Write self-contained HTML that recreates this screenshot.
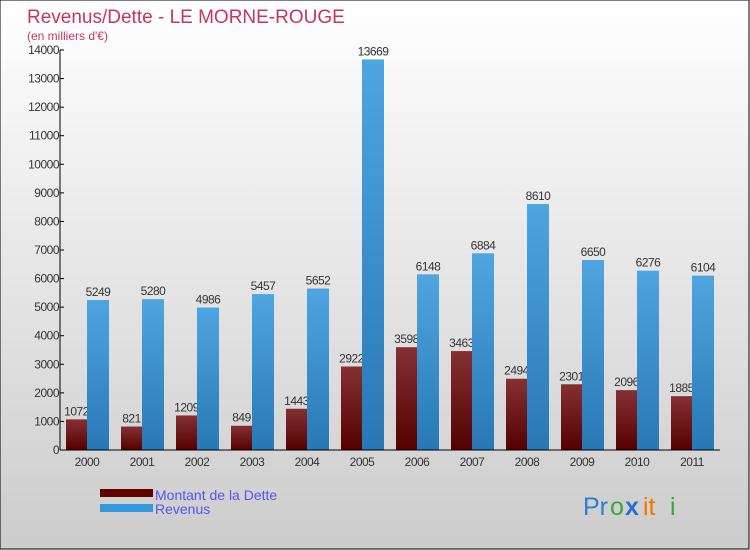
<!DOCTYPE html>
<html><head><meta charset="utf-8"><style>
body{margin:0;width:750px;height:550px;overflow:hidden}
svg{display:block}
text{font-family:"Liberation Sans",sans-serif}
</style></head><body>
<svg width="750" height="550">
<defs>
<linearGradient id="bg" x1="0" y1="0" x2="0" y2="1"><stop offset="0" stop-color="#ffffff"/><stop offset="1" stop-color="#cccccc"/></linearGradient>
<linearGradient id="gd" x1="0" y1="0" x2="0" y2="1"><stop offset="0" stop-color="#853033"/><stop offset="1" stop-color="#550000"/></linearGradient>
<linearGradient id="gr" x1="0" y1="0" x2="0" y2="1"><stop offset="0" stop-color="#4fa5e0"/><stop offset="1" stop-color="#2878b5"/></linearGradient>
</defs>
<rect x="0" y="0" width="749" height="549" fill="url(#bg)" stroke="#000" stroke-width="1"/>
<text x="27" y="23" font-size="19" fill="#c8336a">Revenus/Dette - LE MORNE-ROUGE</text>
<text x="27" y="40" font-size="12" fill="#c8336a">(en milliers d'€)</text>
<g id="plot"></g>
<g>
<rect x="100" y="489" width="53" height="8" fill="#600000"/>
<text x="155" y="500" font-size="14" fill="#5555ee">Montant de la Dette</text>
<rect x="100" y="504" width="53" height="8" fill="#3399dd"/>
<text x="155" y="514" font-size="14" fill="#5555ee">Revenus</text>
</g>
<g font-size="25">
<text x="583" y="515" fill="#2a7fd0">Pr</text><text x="610" y="515" fill="#33aa33">o</text><text x="625" y="515" fill="#2a6fd0" font-weight="bold">x</text><text x="643" y="515" fill="#ee7700">it</text><text x="670" y="515" fill="#33aa33">i</text>
</g>
</svg>
<script>
const years=["2000","2001","2002","2003","2004","2005","2006","2007","2008","2009","2010","2011"];
const dette=[1072,821,1209,849,1443,2922,3598,3463,2494,2301,2096,1885];
const revenus=[5249,5280,4986,5457,5652,13669,6148,6884,8610,6650,6276,6104];
const yTicks=[0,1000,2000,3000,4000,5000,6000,7000,8000,9000,10000,11000,12000,13000,14000];
const NS="http://www.w3.org/2000/svg";
const g=document.getElementById('plot');
const y=v=>450-v*400/14000;
const xc=i=>87+i*55;
function mk(t,a,txt){const e=document.createElementNS(NS,t);for(const k in a)e.setAttribute(k,a[k]);if(txt!==undefined)e.textContent=txt;g.appendChild(e);return e;}
let ax=mk('line',{x1:60,y1:50,x2:60,y2:450,stroke:'#000'});


yTicks.forEach(v=>{
 const t=mk('line',{x1:60,y1:y(v),x2:64,y2:y(v),stroke:'#000'});
 
 
 const l=mk('text',{x:59,y:y(v)+4,'font-size':12,fill:'#333','text-anchor':'end','letter-spacing':'-0.5'},v);
 
 
});
years.forEach((yr,i)=>{
 const c=xc(i);
 const b=mk('rect',{x:c-21,y:y(dette[i]),width:21,height:450-y(dette[i]),fill:'url(#gd)'});
 
 
 const l=mk('text',{x:c-10.5,y:y(dette[i])-4,'font-size':12,fill:'#333','text-anchor':'middle','letter-spacing':'-0.5'},dette[i]);
 
 
});
years.forEach((yr,i)=>{
 const c=xc(i);
 const b=mk('rect',{x:c,y:y(revenus[i]),width:22,height:450-y(revenus[i]),fill:'url(#gr)'});
 
 
 const l=mk('text',{x:c+11,y:y(revenus[i])-4,'font-size':12,fill:'#333','text-anchor':'middle','letter-spacing':'-0.5'},revenus[i]);
 
 
 const t=mk('text',{x:c,y:466,'font-size':12,fill:'#333','text-anchor':'middle','letter-spacing':'-0.5'},yr);
 
 
});
let xa=mk('line',{x1:60,y1:450,x2:720,y2:450,stroke:'#000'});


</script>
</body></html>
